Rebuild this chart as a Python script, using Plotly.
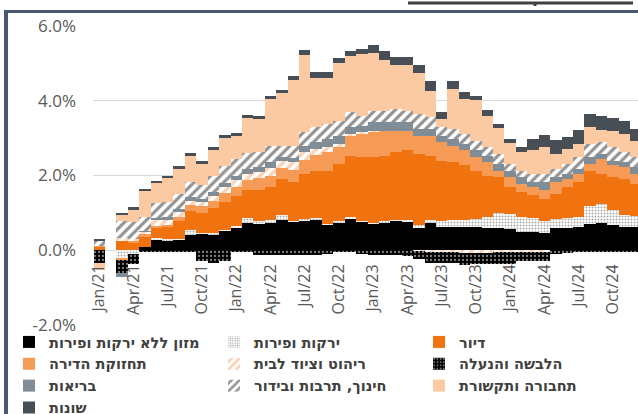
import plotly.graph_objects as go

months = [f"{m}/{y}" for y in ["21", "22", "23", "24"]
          for m in ["Jan", "Feb", "Mar", "Apr", "May", "Jun", "Jul", "Aug", "Sep", "Oct", "Nov", "Dec"]]
tick_months = months[0::3]

y_tickvals = [-2, 0, 2, 4, 6]
y_ticktext = ["-2.0%", "0.0%", "2.0%", "4.0%", "6.0%"]

food = [0.0, 0, 0.0, 0.02, .10, .30, .27, .28, .42, .45, .42, .52, .62, .72, .70, .74, .80, .76, .80, .83, .69, .74, .84, .76,
        .72, .75, .80, .78, .62, .72, .62, .63, .63, .63, .60, .59, .58, .50, .50, .45, .59, .60, .63, .70, .72, .68, .63, .63]
fruit = [0, 0, -.22, -.10, 0, .02, .02, .02, .12, .02, .03, .03, .03, .15, .08, .08, .15, .03, .04, .03, .02, .03, .06, .03,
         .02, .02, .02, .03, .05, .10, .15, .18, .18, .20, .30, .42, .38, .38, .36, .32, .25, .25, .25, .48, .52, .40, .32, .28]
housing = [.10, 0, .27, .20, .28, .30, .33, .48, .51, .53, .67, .75, .80, .73, .84, .88, .96, 1.03, 1.21, 1.27, 1.42, 1.54, 1.63, 1.70,
           1.75, 1.76, 1.80, 1.86, 1.91, 1.71, 1.63, 1.55, 1.46, 1.30, 1.10, .95, .73, .68, .61, .61, .67, .84, .94, .95, .80, .88, .96, .87]
maintenance = [.02, 0, -.05, .03, .05, .04, .06, .10, .15, .18, .20, .22, .25, .28, .30, .30, .29, .33, .37, .42, .49, .45, .53, .64,
               .69, .67, .58, .53, .49, .54, .49, .44, .40, .36, .36, .17, .27, .22, .22, .22, .31, .22, .22, .18, .40, .31, .31, .26]
furniture = [0, 0, .05, .05, .07, .14, .12, .14, .12, .12, .13, .16, .18, .17, .18, .20, .18, .20, .20, .17, .14, .08, .05, .03,
             .02, 0, 0, 0, -.03, -.05, -.05, -.05, -.07, -.08, -.08, -.06, -.06, -.05, -.05, -.04, 0, 0, 0, 0, 0, 0, 0, 0]
clothing = [-.33, 0, -.35, -.28, -.05, -.05, -.05, -.05, -.06, -.30, -.33, -.30, -.04, -.03, -.12, -.12, -.12, -.12, -.14, -.12, -.10, -.05, -.03, -.10,
            -.12, -.12, -.12, -.15, -.20, -.28, -.30, -.30, -.32, -.30, -.30, -.30, -.30, -.25, -.23, -.25, -.10, -.08, -.04, -.04, -.04, -.04, -.04, -.04]
health = [0, 0, -.10, 0, .02, .06, .08, .08, .10, .08, .10, .12, .12, .13, .12, .15, .12, .13, .16, .18, .22, .21, .18, .16,
          .22, .22, .22, .22, .17, .17, .18, .18, .17, .18, .17, .18, .17, .18, .13, .22, .14, .13, .14, .18, .14, .13, .14, .18]
education = [.15, 0, .45, .45, .36, .41, .42, .40, .40, .37, .43, .45, .45, .42, .40, .43, .30, .32, .38, .39, .40, .42, .40, .28,
             .31, .31, .36, .31, .40, .32, .22, .26, .27, .26, .23, .27, .18, .17, .22, .22, .22, .27, .32, .35, .31, .36, .26, .27]
transport = [-.20, 0, .18, .35, .70, .52, .63, .68, .70, .56, .71, .75, .60, .94, .90, 1.26, 1.42, 1.76, 2.06, 1.33, 1.23, 1.55, 1.51, 1.65,
             1.55, 1.35, 1.17, 1.22, 1.11, .69, .22, 1.08, .94, 1.08, .84, .68, .55, .50, .64, .73, .40, .40, .35, .47, .33, .43, .48, .43]
misc = [.03, 0, .05, .05, .07, .06, .07, .07, .08, .07, .07, .08, .09, .08, .08, .08, .08, .10, .13, .15, .16, .12, .12, .13,
        .20, .25, .22, .22, .20, .27, .18, .20, .18, .13, .16, .13, .12, .13, .31, .31, .37, .31, .36, .33, .36, .36, .36, .33]

series = [
    ("מזון ללא ירקות ופירות", food, dict(color="#000000")),
    ("ירקות ופירות", fruit, dict(color="#ffffff", pattern=dict(shape=".", fgcolor="#555555", bgcolor="#ffffff", size=3, solidity=0.35))),
    ("דיור", housing, dict(color="#F0730F")),
    ("תחזוקת הדירה", maintenance, dict(color="#F69B55")),
    ("ריהוט וציוד לבית", furniture, dict(color="#ffffff", pattern=dict(shape="/", fgcolor="#F6A870", bgcolor="#ffffff", size=7, solidity=0.5))),
    ("הלבשה והנעלה", clothing, dict(color="#000000", pattern=dict(shape=".", fgcolor="#ffffff", bgcolor="#000000", size=4, solidity=0.25))),
    ("בריאות", health, dict(color="#808D97")),
    ("חינוך, תרבות ובידור", education, dict(color="#ffffff", pattern=dict(shape="/", fgcolor="#262626", bgcolor="#ffffff", size=7, solidity=0.45))),
    ("תחבורה ותקשורת", transport, dict(color="#FBC9A2")),
    ("שונות", misc, dict(color="#484E55")),
]

fig = go.Figure()
for name, vals, marker in series:
    fig.add_trace(go.Bar(x=months, y=vals, name=name, marker=dict(line=dict(width=0), **marker)))

L, R, T, B = 93, 0, 26, 89
W, H = 638, 414
pw, ph = W - L - R, H - T - B

def px_x(px):
    return (px - L) / pw

def px_y(py):
    return (H - B - py) / ph

fig.update_layout(
    width=W, height=H,
    margin=dict(l=L, r=R, t=T, b=B, pad=0, autoexpand=False),
    paper_bgcolor="white", plot_bgcolor="white",
    barmode="relative", bargap=0,
    font=dict(family="Open Sans, DejaVu Sans, sans-serif", color="#595959"),
    xaxis=dict(type="category", categoryorder="array", categoryarray=months,
               range=[-0.55, 47.2], tickvals=tick_months, ticktext=tick_months,
               tickangle=-90, tickfont=dict(size=16, color="#595959"),
               showgrid=False, showline=False, zeroline=False, ticks="",
               anchor="free", position=0.25, ticklabelstandoff=10, automargin=False),
    yaxis=dict(range=[-2, 6], tickvals=y_tickvals, ticktext=y_ticktext,
               tickfont=dict(size=17, color="#595959"),
               showgrid=True, gridcolor="#D9D9D9", gridwidth=1, automargin=False,
               zeroline=False, showline=False, ticks="", ticklabelstandoff=16),
    legend=dict(orientation="h", x=px_x(9), xanchor="left", y=px_y(326), yanchor="top",
                entrywidth=160, entrywidthmode="pixels", traceorder="normal",
                font=dict(family="DejaVu Sans, Liberation Sans, sans-serif", size=14.5, color="#404040", weight="bold"),
                bgcolor="rgba(0,0,0,0)", itemwidth=30, tracegroupgap=0),
    showlegend=True,
)

frame_color = "#4A5870"
fig.add_shape(type="line", xref="paper", yref="paper", x0=px_x(6), x1=px_x(6), y0=px_y(11), y1=px_y(414),
              line=dict(color=frame_color, width=4))
fig.add_shape(type="line", xref="paper", yref="paper", x0=px_x(4), x1=px_x(638), y0=px_y(11.5), y1=px_y(11.5),
              line=dict(color=frame_color, width=3))
fig.add_shape(type="line", xref="paper", yref="paper", x0=px_x(408), x1=px_x(633), y0=px_y(3), y1=px_y(3),
              line=dict(color="#404040", width=3))
fig.add_shape(type="line", xref="paper", yref="paper", x0=px_x(535), x1=px_x(535), y0=px_y(3), y1=px_y(6),
              line=dict(color="#404040", width=3))

fig.write_html("out.html")
